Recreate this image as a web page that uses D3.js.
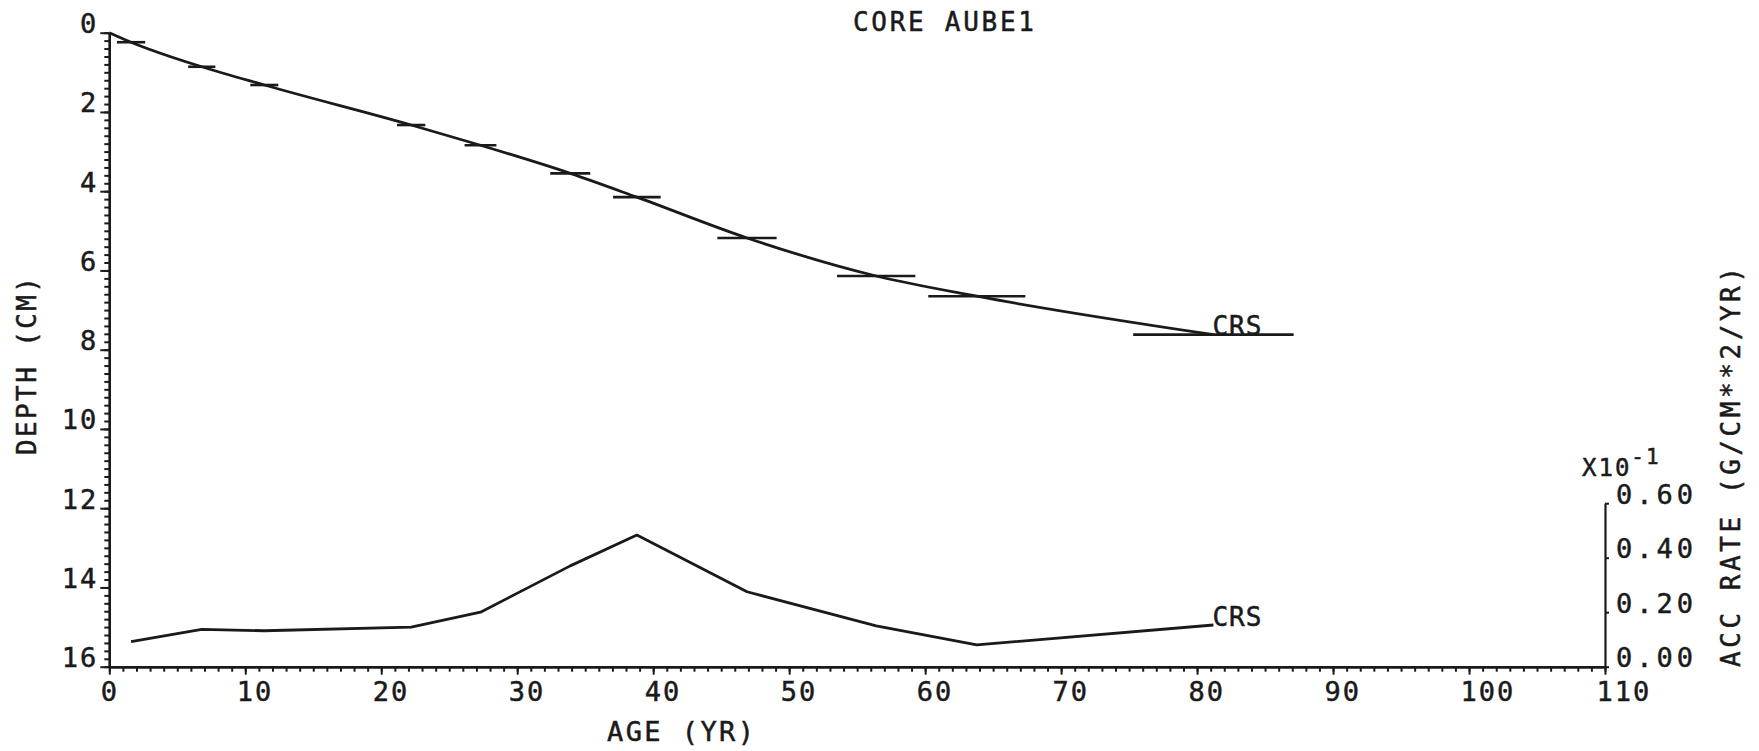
<!DOCTYPE html>
<html>
<head>
<meta charset="utf-8">
<script src="https://cdn.jsdelivr.net/npm/d3@7"></script>
<style>
  html, body { margin: 0; padding: 0; background: #fff; }
  svg { display: block; }
  text { font-family: "DejaVu Sans Mono", monospace; fill: #1a1a1a; stroke: #1a1a1a; stroke-width: 0.5px; }
</style>
</head>
<body>
<svg id="chart" width="1759" height="751"></svg>
<script>
// ---- data ----
const title = "CORE AUBE1";
const seriesName = "CRS";
const curveStartAge = 0;
const curveStartDepth = 0;
const ages = [1.6, 6.8, 11.4, 22.2, 27.3, 33.9, 38.8, 46.9, 56.4, 63.8, 81.2];
const depths = [0.24, 0.86, 1.32, 2.33, 2.84, 3.55, 4.15, 5.18, 6.14, 6.65, 7.62];
const ageErrors = [1.04, 1.0, 1.03, 1.04, 1.17, 1.47, 1.75, 2.18, 2.88, 3.57, 5.9];
const accRates = [0.092, 0.137, 0.132, 0.145, 0.20, 0.37, 0.483, 0.275, 0.15, 0.08, 0.153]; // x10^-1
const ageTicks = [0, 10, 20, 30, 40, 50, 60, 70, 80, 90, 100, 110];
const depthTicks = [0, 2, 4, 6, 8, 10, 12, 14, 16];
const accTicks = [0, 0.2, 0.4, 0.6];
const accTickLabels = ["0.00", "0.20", "0.40", "0.60"];

// ---- layout ----
const ink = "#1a1a1a";
const svg = d3.select("#chart");
const x = d3.scaleLinear().domain([0, 110]).range([109.3, 1605]);
const yDepth = d3.scaleLinear().domain([0, 16]).range([32.7, 666.7]);
const yAcc = d3.scaleLinear().domain([0, 0.6]).range([666.7, 503.2]);
const fs = 27;

function styleAxis(g, w) {
  g.selectAll("path.domain").attr("stroke", ink).attr("stroke-width", w);
  g.selectAll(".tick line").attr("stroke", ink).attr("stroke-width", 2);
}
function styleLabels(sel, ls) {
  sel.attr("font-size", fs).attr("letter-spacing", ls)
    .attr("font-family", "DejaVu Sans Mono").attr("fill", ink);
}

// left axis: minor + major ticks
const minorDepth = d3.range(0, 16.0001, 0.2);
const gLm = svg.append("g").attr("transform", `translate(${x(0)},0)`)
  .call(d3.axisLeft(yDepth).tickValues(minorDepth).tickSize(5).tickSizeOuter(0).tickFormat(""));
styleAxis(gLm, 2.4);
const gL = svg.append("g").attr("transform", `translate(${x(0)},0)`)
  .call(d3.axisLeft(yDepth).tickValues(depthTicks).tickSize(9).tickSizeOuter(0).tickFormat(d3.format("d")));
styleAxis(gL, 2.4);
styleLabels(gL.selectAll(".tick text").attr("x", -11).attr("dy", 0), 2);

// bottom axis
const minorAge = d3.range(0, 110.0001, 1);
const gBm = svg.append("g").attr("transform", `translate(0,${yDepth(16)})`)
  .call(d3.axisBottom(x).tickValues(minorAge).tickSize(5).tickSizeOuter(0).tickFormat(""));
styleAxis(gBm, 2.4);
const gB = svg.append("g").attr("transform", `translate(0,${yDepth(16)})`)
  .call(d3.axisBottom(x).tickValues(ageTicks).tickSize(8).tickSizeOuter(0).tickFormat(d3.format("d")));
styleAxis(gB, 2.4);
styleLabels(gB.selectAll(".tick text").attr("text-anchor", "start").attr("x", -9).attr("y", 34).attr("dy", 0), 2);

// right axis (acc rate)
const gR = svg.append("g").attr("transform", `translate(${x(110)},0)`)
  .call(d3.axisRight(yAcc).tickValues(accTicks).tickSize(4).tickSizeOuter(0)
    .tickFormat((d, i) => accTickLabels[i]));
styleAxis(gR, 2.2);
styleLabels(gR.selectAll(".tick text").attr("x", 11).attr("dy", 0), 4);

// x10^-1 multiplier
const mult = svg.append("text").attr("x", x(110) - 23).attr("y", yAcc(0.6) - 27)
  .attr("font-size", 24).attr("letter-spacing", 2);
mult.append("tspan").text("X10");
mult.append("tspan").attr("dy", -12).attr("font-size", 21).text("-1");

// depth curve
const depthPts = [[curveStartAge, curveStartDepth]].concat(ages.map((a, i) => [a, depths[i]]));
svg.append("path")
  .attr("d", d3.line().x(d => x(d[0])).y(d => yDepth(d[1])).curve(d3.curveMonotoneX)(depthPts))
  .attr("fill", "none").attr("stroke", ink).attr("stroke-width", 2.8).attr("stroke-linejoin", "round");

// error bars
svg.append("g").selectAll("line").data(ages).join("line")
  .attr("x1", (a, i) => x(a - ageErrors[i])).attr("x2", (a, i) => x(a + ageErrors[i]))
  .attr("y1", (a, i) => yDepth(depths[i])).attr("y2", (a, i) => yDepth(depths[i]))
  .attr("stroke", ink).attr("stroke-width", 2.6);

// acc rate line
const accPts = ages.map((a, i) => [a, accRates[i]]);
svg.append("path")
  .attr("d", d3.line().x(d => x(d[0])).y(d => yAcc(d[1]))(accPts))
  .attr("fill", "none").attr("stroke", ink).attr("stroke-width", 2.8).attr("stroke-linejoin", "round");

// series labels at line ends
const lastA = ages[ages.length - 1];
svg.append("text").attr("x", x(lastA) - 1).attr("y", yDepth(depths[depths.length - 1]))
  .attr("font-size", 26).attr("letter-spacing", 1).text(seriesName);
svg.append("text").attr("x", x(lastA) - 1).attr("y", yAcc(accRates[accRates.length - 1]) + 1)
  .attr("font-size", 26).attr("letter-spacing", 1).text(seriesName);

// title
svg.append("text").attr("x", 853).attr("y", 31).attr("font-size", 26)
  .attr("textLength", 181).attr("lengthAdjust", "spacing").text(title);

// axis titles
svg.append("text").attr("x", 607).attr("y", 741).attr("font-size", 27)
  .attr("textLength", 147).attr("lengthAdjust", "spacing").text("AGE (YR)");
svg.append("text").attr("transform", "translate(36,455) rotate(-90)").attr("font-size", 26)
  .attr("textLength", 178).attr("lengthAdjust", "spacing").text("DEPTH (CM)");
svg.append("text").attr("transform", "translate(1740,667) rotate(-90)").attr("font-size", 26)
  .attr("textLength", 400).attr("lengthAdjust", "spacing").text("ACC RATE (G/CM**2/YR)");
</script>
</body>
</html>
